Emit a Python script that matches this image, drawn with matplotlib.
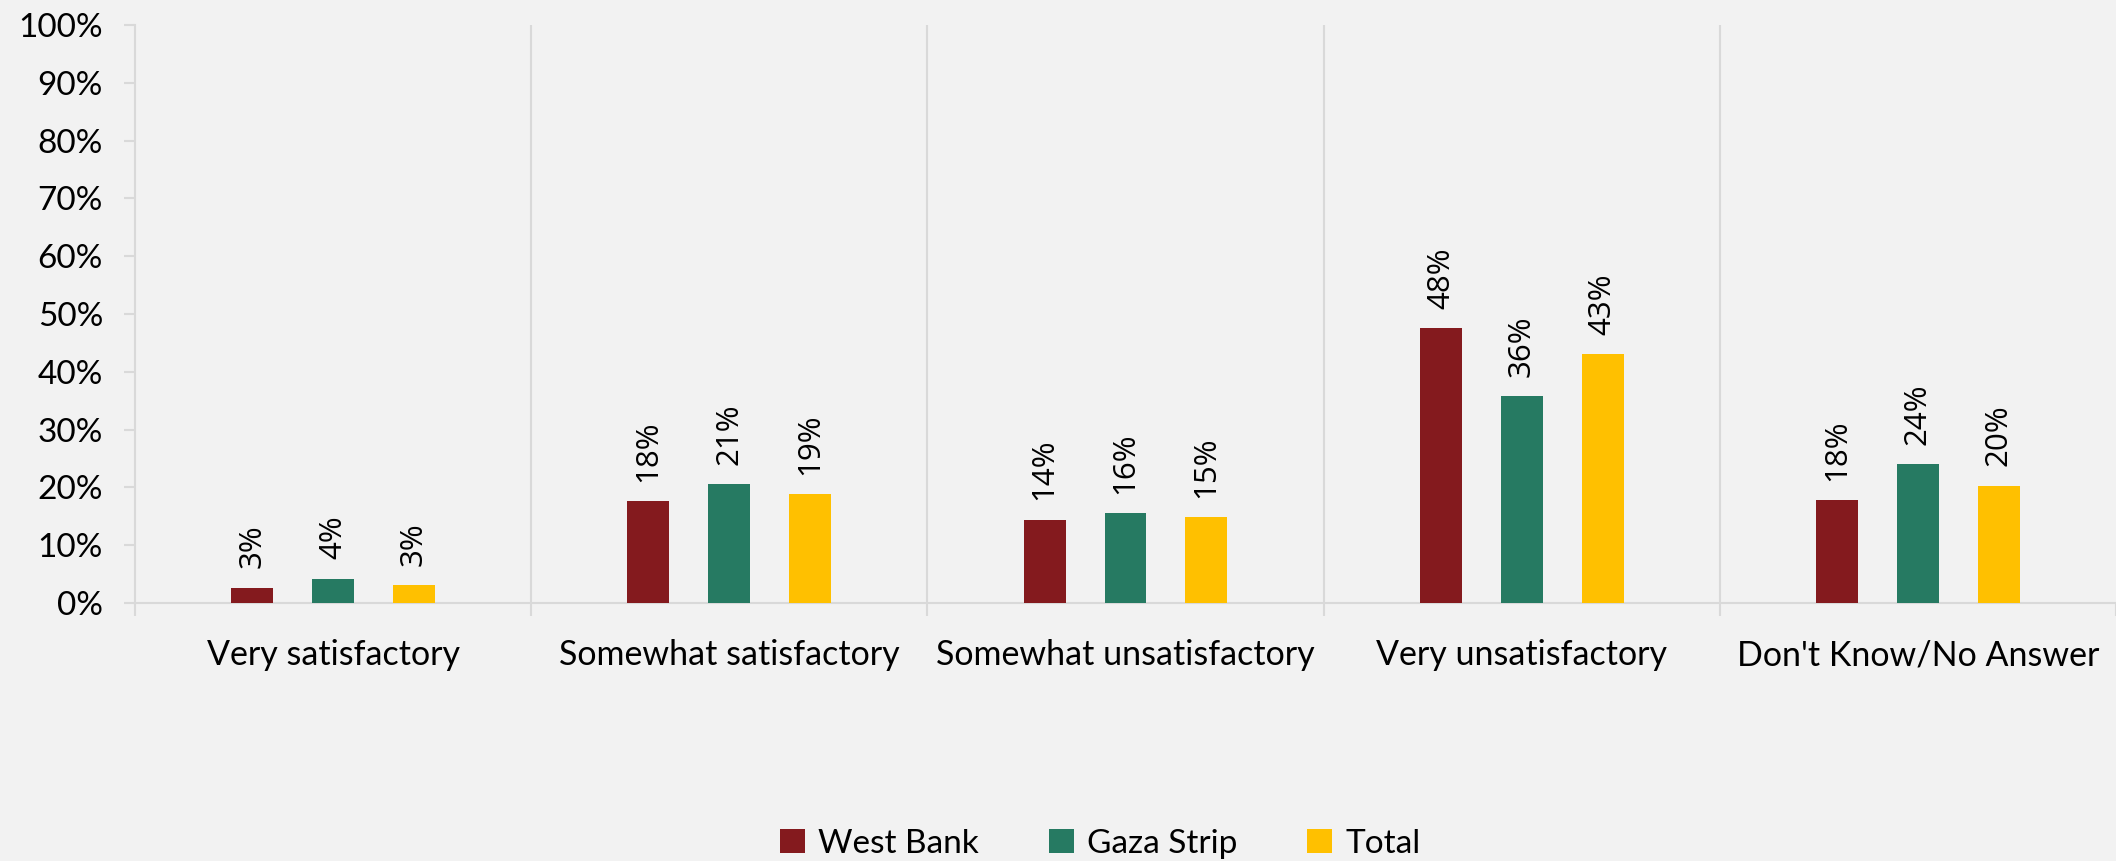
import numpy as np
import matplotlib.pyplot as plt
from matplotlib.ticker import FuncFormatter

# survey answers
categories = ["Very satisfactory", "Somewhat satisfactory", "Somewhat unsatisfactory",
              "Very unsatisfactory", "Don't Know/No Answer"]
west_bank = [2.6, 17.6, 14.4, 47.5, 17.8]
gaza_strip = [4.2, 20.5, 15.5, 35.8, 24.0]
total = [3.1, 18.8, 14.8, 43.0, 20.3]
series_names = ["West Bank", "Gaza Strip", "Total"]
colors = ["#841A1E", "#267A62", "#FFC000"]

bg = "#F2F2F2"
grid_c = "#D9D9D9"
font = "Lato"

fig = plt.figure(figsize=(21.16, 8.61), dpi=100, facecolor=bg)
ax = fig.add_axes([0.0638, 0.2997, 0.9362, 0.6713])
ax.set_facecolor(bg)

x = np.arange(len(categories))
offs = [-0.204, 0, 0.204]
w = 0.106
for vals, name, c, o in zip([west_bank, gaza_strip, total], series_names, colors, offs):
    bars = ax.bar(x + o, vals, width=w, color=c, label=name, zorder=3)
    for b, v in zip(bars, vals):
        ax.annotate(f"{int(np.floor(v + 0.5))}%", (b.get_x() + b.get_width() / 2, v),
                    xytext=(0, 14), textcoords="offset points", rotation=90,
                    ha="center", va="bottom", fontsize=22.5, family="Open Sans")

ax.set_xlim(-0.5, len(categories) - 0.5)
ax.set_ylim(0, 100)
ax.set_yticks(np.arange(0, 101, 10))
ax.yaxis.set_major_formatter(FuncFormatter(lambda v, p: f"{int(v)}%"))

# category separators
bounds = np.arange(0.5, len(categories) - 0.5, 1)
for bx in bounds:
    ax.axvline(bx, color=grid_c, lw=1.5, zorder=1)
ax.set_xticks(x)
ax.set_xticklabels(categories)
ax.set_xticks(np.arange(-0.5, len(categories), 1), minor=True)
ax.tick_params(axis="x", which="major", length=0, pad=26, labelsize=24.5)
ax.tick_params(axis="x", which="minor", length=9, width=1.5, color=grid_c, direction="out")
ax.tick_params(axis="y", length=8, width=1.5, color=grid_c, pad=15, labelsize=24)
for lab in ax.get_xticklabels() + ax.get_yticklabels():
    lab.set_family(font)

for s in ["top", "right"]:
    ax.spines[s].set_visible(False)
for s in ["left", "bottom"]:
    ax.spines[s].set_color(grid_c)
    ax.spines[s].set_linewidth(1.5)

fig.legend(loc="center", bbox_to_anchor=(0.52, 0.02), ncol=3, frameon=False,
           prop={"family": font, "size": 24}, handlelength=0.75, handleheight=0.75,
           handletextpad=0.4, columnspacing=2.1)

fig.savefig("out.png", dpi=100, facecolor=bg)
